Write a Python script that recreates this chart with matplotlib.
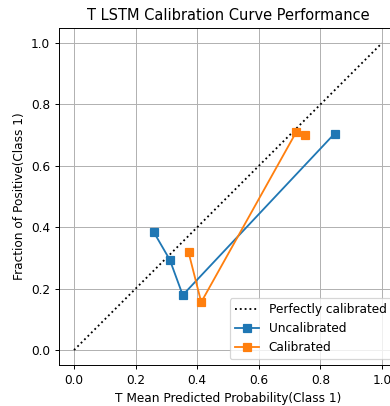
import matplotlib
matplotlib.use("Agg")
import matplotlib.pyplot as plt

uncal_x = [0.259, 0.311, 0.353, 0.846]
uncal_y = [0.384, 0.294, 0.179, 0.705]
cal_x = [0.372, 0.413, 0.722, 0.750]
cal_y = [0.318, 0.156, 0.711, 0.702]

DPI = 87.5
fig = plt.figure(figsize=(390 / DPI, 406 / DPI), dpi=DPI)
ax = fig.add_axes([0.1503, 0.100, 0.8687, 0.8318])
ax.plot([0, 1], [0, 1], 'k:', label='Perfectly calibrated')
ax.plot(uncal_x, uncal_y, 's-', color='#1f77b4', label='Uncalibrated')
ax.plot(cal_x, cal_y, 's-', color='#ff7f0e', label='Calibrated')
ax.set_xlim(-0.05, 1.05)
ax.set_ylim(-0.05, 1.05)
ax.grid(True)
ax.set_xlabel('T Mean Predicted Probability(Class 1)')
ax.set_ylabel('Fraction of Positive(Class 1)')
ax.set_title('T LSTM Calibration Curve Performance')
ax.legend(loc='lower right')
fig.savefig('out.png', dpi=DPI)
